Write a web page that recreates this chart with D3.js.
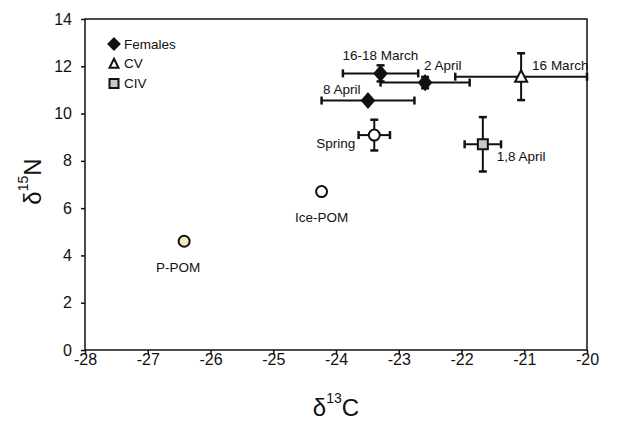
<!DOCTYPE html>
<html>
<head>
<meta charset="utf-8">
<script src="https://cdn.jsdelivr.net/npm/d3@7/dist/d3.min.js"></script>
<style>
  html, body { margin: 0; padding: 0; background: #fff; }
  svg { display: block; font-family: "Liberation Sans", Arial, sans-serif; }
</style>
</head>
<body>
<div id="chart"></div>
<script>
/* Stable isotope biplot: d13C vs d15N for females / CV / CIV and POM sources,
   with +-SD error bars. */
var labels = ["P-POM", "Ice-POM", "Spring", "8 April", "16-18 March", "2 April", "16 March", "1,8 April"];
var groups = ["ppom", "icepom", "spring", "female", "female", "female", "cv", "civ"];
var d13C   = [-26.42, -24.23, -23.39, -23.49, -23.29, -22.58, -21.05, -21.66];
var d15N   = [4.60, 6.70, 9.09, 10.55, 11.70, 11.31, 11.56, 8.70];
var sdC    = [0, 0, 0.25, 0.74, 0.60, 0.71, 1.05, 0.29];
var sdN    = [0, 0, 0.65, 0, 0.34, 0.24, 0.99, 1.15];
var xTicks = [-28, -27, -26, -25, -24, -23, -22, -21, -20];
var yTicks = [0, 2, 4, 6, 8, 10, 12, 14];
var legendNames  = ["Females", "CV", "CIV"];
var legendGroups = ["female", "cv", "civ"];

(function () {
  var W = 628, H = 421;
  var svg = d3.select("#chart").append("svg")
    .attr("width", W).attr("height", H);

  var x = d3.scaleLinear().domain([-28, -20]).range([85, 587]);
  var y = d3.scaleLinear().domain([0, 14]).range([350, 19]);

  // label placement relative to the marker (px)
  var labelPos = {
    "P-POM":       { dx: -6,  dy: 31,  anchor: "middle" },
    "Ice-POM":     { dx: 0,   dy: 30,  anchor: "middle" },
    "Spring":      { dx: -19, dy: 13,  anchor: "end" },
    "8 April":     { dx: -45, dy: -7,  anchor: "start" },
    "16-18 March": { dx: -38, dy: -13, anchor: "start" },
    "2 April":     { dx: -1,  dy: -13, anchor: "start" },
    "16 March":    { dx: 11,  dy: -7,  anchor: "start" },
    "1,8 April":   { dx: 14,  dy: 17,  anchor: "start" }
  };

  var fills = { ppom: "#f1e8c4", icepom: "#fff", spring: "#fff",
                female: "#111", cv: "#fff", civ: "#c8c8c8" };

  function markerPath(g) {
    if (g === "female") return "M0,-7L6,0L0,7L-6,0Z";
    if (g === "cv") return "M0,-6.5L6,5L-6,5Z";
    if (g === "civ") return "M-5,-5H5V5H-5Z";
    return d3.arc()({ innerRadius: 0, outerRadius: 5.5, startAngle: 0, endAngle: 2 * Math.PI });
  }
  function legendPath(g) {
    if (g === "female") return "M0,-5.5L5.5,0L0,5.5L-5.5,0Z";
    if (g === "cv") return "M0,-5L4.5,4L-4.5,4Z";
    return "M-4.5,-4.5H4.5V4.5H-4.5Z";
  }

  // axes
  var xAxis = svg.append("g").attr("transform", "translate(0," + y(0) + ")")
    .call(d3.axisBottom(x).tickValues(xTicks).tickSize(4).tickPadding(0)
      .tickFormat(d3.format("d")));
  var yAxis = svg.append("g").attr("transform", "translate(" + x(-28) + ",0)")
    .call(d3.axisLeft(y).tickValues(yTicks).tickSize(4).tickPadding(9)
      .tickFormat(d3.format("d")));
  [xAxis, yAxis].forEach(function (a) {
    a.select(".domain").remove();
    a.selectAll(".tick line").attr("stroke", "#111").attr("stroke-width", 1.5);
    a.selectAll(".tick text").attr("fill", "#111")
      .style("font-size", "16px").style("font-family", "'Liberation Sans', Arial, sans-serif");
  });
  // plain ASCII hyphen as in the original
  xAxis.selectAll(".tick text").text(function (d) { return String(d); });

  svg.append("rect")
    .attr("x", x(-28)).attr("y", y(14))
    .attr("width", x(-20) - x(-28)).attr("height", y(0) - y(14))
    .attr("fill", "none").attr("stroke", "#111").attr("stroke-width", 1.5);

  var pts = labels.map(function (l, i) {
    return { label: l, g: groups[i], c: d13C[i], n: d15N[i], ec: sdC[i], en: sdN[i] };
  });

  // error bars
  var eb = svg.append("g").attr("stroke", "#111").attr("stroke-width", 2).attr("fill", "none");
  pts.forEach(function (d) {
    var cx = x(d.c), cy = y(d.n), cap = 4;
    if (d.ec > 0) {
      var x0 = x(d.c - d.ec), x1 = x(d.c + d.ec);
      eb.append("line").attr("x1", x0).attr("x2", x1).attr("y1", cy).attr("y2", cy);
      eb.append("line").attr("x1", x0).attr("x2", x0).attr("y1", cy - cap).attr("y2", cy + cap).attr("stroke-width", 2.5);
      eb.append("line").attr("x1", x1).attr("x2", x1).attr("y1", cy - cap).attr("y2", cy + cap).attr("stroke-width", 2.5);
    }
    if (d.en > 0) {
      var y0 = y(d.n - d.en), y1 = y(d.n + d.en);
      eb.append("line").attr("x1", cx).attr("x2", cx).attr("y1", y0).attr("y2", y1);
      eb.append("line").attr("x1", cx - cap).attr("x2", cx + cap).attr("y1", y0).attr("y2", y0).attr("stroke-width", 2.5);
      eb.append("line").attr("x1", cx - cap).attr("x2", cx + cap).attr("y1", y1).attr("y2", y1).attr("stroke-width", 2.5);
    }
  });

  // markers
  svg.append("g").selectAll("path").data(pts).join("path")
    .attr("transform", function (d) { return "translate(" + x(d.c) + "," + y(d.n) + ")"; })
    .attr("d", function (d) { return markerPath(d.g); })
    .attr("fill", function (d) { return fills[d.g]; })
    .attr("stroke", "#111").attr("stroke-width", 2)
    .attr("stroke-linejoin", "miter");

  // point labels
  svg.append("g").selectAll("text").data(pts).join("text")
    .attr("x", function (d) { return x(d.c) + labelPos[d.label].dx; })
    .attr("y", function (d) { return y(d.n) + labelPos[d.label].dy; })
    .attr("text-anchor", function (d) { return labelPos[d.label].anchor; })
    .attr("fill", "#111").style("font-size", "13.5px")
    .text(function (d) { return d.label; });

  // legend
  var leg = svg.append("g").attr("transform", "translate(114,44)");
  legendNames.forEach(function (name, i) {
    var row = leg.append("g").attr("transform", "translate(0," + (i * 19.7) + ")");
    row.append("path").attr("d", legendPath(legendGroups[i]))
      .attr("fill", fills[legendGroups[i]]).attr("stroke", "#111").attr("stroke-width", 2);
    row.append("text").attr("x", 10).attr("y", 4.5)
      .attr("fill", "#111").style("font-size", "13.5px").text(name);
  });

  // axis titles with superscripts
  var xt = svg.append("text").attr("x", (x(-28) + x(-20)) / 2).attr("y", 416)
    .attr("text-anchor", "middle").attr("fill", "#111").style("font-size", "24px");
  xt.append("tspan").text("\u03b4");
  xt.append("tspan").attr("dy", -13).style("font-size", "14px").text("13");
  xt.append("tspan").attr("dy", 13).text("C");

  var yt = svg.append("text")
    .attr("transform", "translate(41," + ((y(0) + y(14)) / 2 - 3) + ") rotate(-90)")
    .attr("text-anchor", "middle").attr("fill", "#111").style("font-size", "24px");
  yt.append("tspan").text("\u03b4");
  yt.append("tspan").attr("dy", -13).style("font-size", "14px").text("15");
  yt.append("tspan").attr("dy", 13).text("N");
})();
</script>
</body>
</html>
